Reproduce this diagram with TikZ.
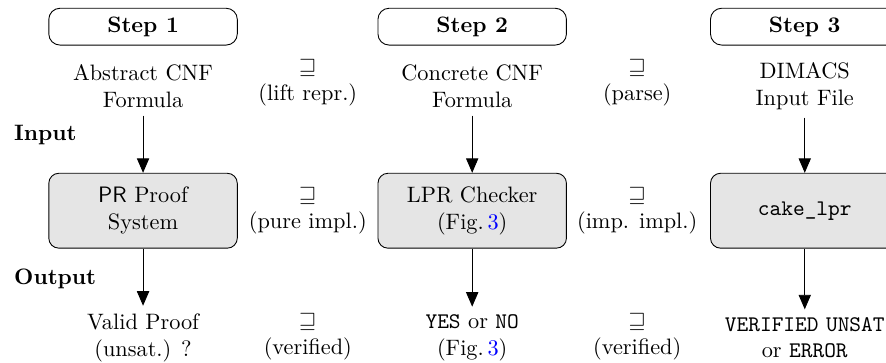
\documentclass[tikz,border=0pt]{standalone}
\usepackage{amssymb}
\usetikzlibrary{arrows.meta}

\tikzset{
  stepbox/.style={draw, rounded corners=5pt, minimum width=2.97cm, minimum height=0.58cm, font=\bfseries},
  phase/.style={draw, fill=gray!20, rounded corners=4.5pt, minimum width=2.97cm, minimum height=1.18cm, align=center},
  txt/.style={align=center},
}

\begin{document}
\begin{tikzpicture}
        \useasboundingbox (0,0) rectangle (13.96,-5.705);

        % steps
        \node[stepbox] (s1) at (2.254,-0.42) {Step 1};
        \node[stepbox] (s2) at (7.44,-0.42) {Step 2};
        \node[stepbox] (s3) at (12.68,-0.42) {Step 3};

        % inputs
        \node[txt] (in1) at (2.254,-1.36) {Abstract CNF\\Formula};
        \node[txt] (in2) at (7.44,-1.36) {Concrete CNF\\Formula};
        \node[txt] (in3) at (12.68,-1.36) {DIMACS\\Input File};

        % checkers
        \node[phase] (c1) at (2.254,-3.32) {\textsf{PR} Proof\\System};
        \node[phase] (c2) at (7.44,-3.32) {LPR Checker\\(Fig.\,\textcolor{blue}{3})};
        \node[phase] (c3) at (12.68,-3.32) {\texttt{cake\_lpr}};

        % outputs
        \node[txt] (out1) at (2.254,-5.32) {Valid Proof\\(unsat.) ?};
        \node[txt] (out2) at (7.44,-5.32) {\texttt{YES} or \texttt{NO}\\(Fig.\,\textcolor{blue}{3})};
        \node[txt] (out3) at (12.68,-5.32) {\texttt{VERIFIED} \texttt{UNSAT}\\or \texttt{ERROR}};

        % refinements
        \node[txt] (r1) at (4.85,-1.30) {$\sqsupseteq$\\(lift repr.)};
        \node[txt] (r2) at (10.04,-1.30) {$\sqsupseteq$\\(parse)};
        \node[txt] (r3) at (4.85,-3.32) {$\sqsupseteq$\\(pure impl.)};
        \node[txt] (r4) at (10.04,-3.32) {$\sqsupseteq$\\(imp. impl.)};
        \node[txt] (r5) at (4.85,-5.30) {$\sqsupseteq$\\(verified)};
        \node[txt] (r6) at (10.04,-5.30) {$\sqsupseteq$\\(verified)};

        \node[anchor=west, font=\bfseries] (inp) at (0.10,-2.12) {Input};
        \node[anchor=west, font=\bfseries] (outp) at (0.10,-4.40) {Output};

        \draw[-{Triangle[length=6.5pt, width=5.5pt]}] (in1) -- (c1);
        \draw[-{Triangle[length=6.5pt, width=5.5pt]}] (in2) -- (c2);
        \draw[-{Triangle[length=6.5pt, width=5.5pt]}] (in3) -- (c3);
        \draw[-{Triangle[length=6.5pt, width=5.5pt]}] (c1) -- (out1);
        \draw[-{Triangle[length=6.5pt, width=5.5pt]}] (c2) -- (out2);
        \draw[-{Triangle[length=6.5pt, width=5.5pt]}] (c3) -- (out3);
      \end{tikzpicture}
\end{document}
